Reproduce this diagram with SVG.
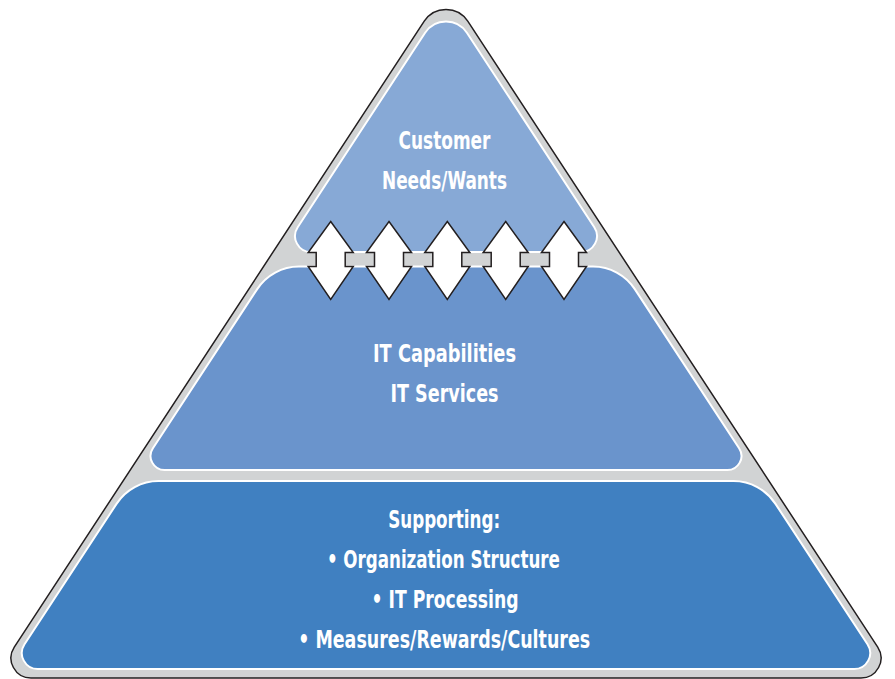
<svg xmlns="http://www.w3.org/2000/svg" xmlns:xlink="http://www.w3.org/1999/xlink" width="895" height="679" viewBox="0 0 895 679">
<style>
.sec{stroke:#ffffff;stroke-width:2}
.lbl{font-family:"Liberation Sans Narrow","DejaVu Sans Condensed","Liberation Sans",Arial,sans-serif;font-weight:bold;font-size:24px;fill:#ffffff;text-anchor:middle}
.arr{fill:#ffffff;stroke:#231f20;stroke-width:1.5;stroke-linejoin:miter}
</style>
<defs>
<path id="dblarrow" class="arr" d="M0,221.5 L22.5,252.5 L14.5,252.5 L14.5,266.5 L22.5,266.5 L0,299.5 L-22.5,266.5 L-14.5,266.5 L-14.5,252.5 L-22.5,252.5 Z"/>
</defs>
<rect width="895" height="679" fill="#ffffff"/>
<g id="frame">
<path d="M424.25,21.2 A26,26 0 0 1 467.75,21.2 L877.73,647.05 A20,20 0 0 1 861,678 L31,678 A20,20 0 0 1 14.27,647.05 Z" fill="#d1d3d4" stroke="#231f20" stroke-width="1.5"/>
</g>
<g id="customer">
<path class="sec" fill="#87a9d6" d="M425.1,32.7 A25,25 0 0 1 466.9,32.7 L594.3,227.2 A16,16 0 0 1 580.9,252 L311.1,252 A16,16 0 0 1 297.7,227.2 Z"/>
<text class="lbl" x="444.5" y="149.3" textLength="92" lengthAdjust="spacingAndGlyphs">Customer</text>
<text class="lbl" x="444.5" y="189.3" textLength="125" lengthAdjust="spacingAndGlyphs">Needs/Wants</text>
</g>
<g id="it">
<path class="sec" fill="#6a94cc" d="M299,266.5 L593,266.5 A50,50 0 0 1 634.8,289.1 L739.1,448.3 A14,14 0 0 1 727.4,470 L164.6,470 A14,14 0 0 1 152.9,448.3 L257.2,289.1 A50,50 0 0 1 299,266.5 Z"/>
<text class="lbl" x="444.5" y="362" textLength="143" lengthAdjust="spacingAndGlyphs">IT Capabilities</text>
<text class="lbl" x="444.5" y="402" textLength="108" lengthAdjust="spacingAndGlyphs">IT Services</text>
</g>
<g id="supporting">
<path class="sec" fill="#4080c1" d="M158.5,481 L733.5,481 A50,50 0 0 1 775.3,503.6 L867.5,644.2 A16,16 0 0 1 854.1,669 L37.9,669 A16,16 0 0 1 24.5,644.2 L116.7,503.6 A50,50 0 0 1 158.5,481 Z"/>
<text class="lbl" x="444.2" y="528.3" textLength="112" lengthAdjust="spacingAndGlyphs">Supporting:</text>
<text class="lbl" x="443.4" y="568.3" textLength="233" lengthAdjust="spacingAndGlyphs">• Organization Structure</text>
<text class="lbl" x="445" y="608.3" textLength="147" lengthAdjust="spacingAndGlyphs">• IT Processing</text>
<text class="lbl" x="444.2" y="648.3" textLength="292" lengthAdjust="spacingAndGlyphs">• Measures/Rewards/Cultures</text>
</g>
<g id="connectors">
<use xlink:href="#dblarrow" x="330.7"/>
<use xlink:href="#dblarrow" x="389"/>
<use xlink:href="#dblarrow" x="447.3"/>
<use xlink:href="#dblarrow" x="505.7"/>
<use xlink:href="#dblarrow" x="564"/>
</g>
</svg>
